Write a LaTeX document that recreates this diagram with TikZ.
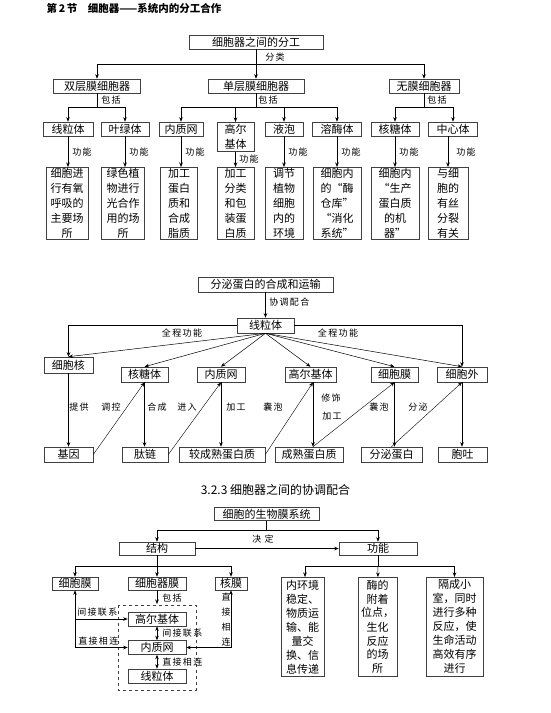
\documentclass[tikz,border=0pt]{standalone}
\usepackage{fontspec}
\setmainfont{Noto Sans CJK SC}
\newfontfamily\lblfont{Noto Sans CJK SC}[LetterSpace=15]
\usetikzlibrary{arrows.meta}

\begin{document}
\begin{tikzpicture}[x=1pt, y=-1pt, line width=0.5pt,
    box/.style={draw=black!75, line width=0.6pt, inner sep=0pt, align=center, font=\fontsize{11}{15}\selectfont},
    tallbox/.style={box, font=\fontsize{11}{14}\selectfont},
    lbl/.style={inner sep=0pt, font=\lblfont\fontsize{9}{11}\selectfont},
    >={Stealth[length=4.5pt,width=3.5pt]}]

    \useasboundingbox (0,0) rectangle (550,713);

    \node[anchor=west, font=\bfseries\fontsize{10.5}{12}\selectfont] (title) at (43,8) {第\,2\,节\quad 细胞器——系统内的分工合作};

    % ---- 分工
    \node[box, minimum width=134, minimum height=14] (fg) at (256,42) {细胞器之间的分工};
    \node[box, minimum width=87, minimum height=14] (sm2) at (97,86) {双层膜细胞器};
    \node[box, minimum width=96, minimum height=14] (sm1) at (256,86) {单层膜细胞器};
    \node[box, minimum width=70, minimum height=14] (sm0) at (424,86) {无膜细胞器};
    \coordinate (fgj) at (256,64);
    \draw (fg) -- (fgj);
    \draw[->] (fgj) -| (sm2);
    \draw[->] (fgj) -- (sm1);
    \draw[->] (fgj) -| (sm0);
    \node[lbl] at (275,57) {分类};

    \node[box, minimum width=50, minimum height=14] (xlt) at (68,129) {线粒体};
    \node[box, minimum width=48, minimum height=14] (ylt) at (125,129) {叶绿体};
    \node[box, minimum width=44, minimum height=14] (nzw) at (181,129) {内质网};
    \node[box, minimum width=37, minimum height=29, anchor=north] (gej) at (235.5,122) {高尔\\基体};
    \node[box, minimum width=38, minimum height=14] (yp) at (284,129) {液泡};
    \node[box, minimum width=49, minimum height=14] (rmt) at (337,129) {溶酶体};
    \node[box, minimum width=48, minimum height=14] (htt) at (395,129) {核糖体};
    \node[box, minimum width=49, minimum height=14] (zxt) at (453,129) {中心体};

    \coordinate (sm2j) at (97,107);
    \draw (sm2) -- (sm2j);
    \draw[->] (sm2j) -| (xlt);
    \draw[->] (sm2j) -| (ylt);
    \node[lbl] at (111,100) {包括};
    \coordinate (sm1j) at (256,107);
    \draw (sm1) -- (sm1j);
    \draw[->] (sm1j) -| (nzw);
    \draw[->] (sm1j) -| (gej);
    \draw[->] (sm1j) -| (yp);
    \draw[->] (sm1j) -| (rmt);
    \node[lbl] at (268,100) {包括};
    \coordinate (sm0j) at (424,107);
    \draw (sm0) -- (sm0j);
    \draw[->] (sm0j) -| (htt);
    \draw[->] (sm0j) -| (zxt);
    \node[lbl] at (437,100) {包括};

    \node[box, minimum width=42, minimum height=72, anchor=north] (f1) at (67,167) {细胞进\\行有氧\\呼吸的\\主要场\\所};
    \node[box, minimum width=43, minimum height=72, anchor=north] (f2) at (123,167) {绿色植\\物进行\\光合作\\用的场\\所};
    \node[box, minimum width=37, minimum height=72, anchor=north] (f3) at (179,167) {加工\\蛋白\\质和\\合成\\脂质};
    \node[box, minimum width=37, minimum height=72, anchor=north] (f4) at (235.5,167) {加工\\分类\\和包\\装蛋\\白质};
    \node[box, minimum width=38, minimum height=72, anchor=north] (f5) at (284,167) {调节\\植物\\细胞\\内的\\环境};
    \node[box, minimum width=48, minimum height=72, anchor=north] (f6) at (337,167) {细胞内\\的“酶\\仓库”\\“消化\\系统”};
    \node[box, minimum width=48, minimum height=72, anchor=north] (f7) at (395,167) {细胞内\\“生产\\蛋白质\\的机\\器”};
    \node[box, minimum width=40, minimum height=72, anchor=north] (f8) at (448,167) {与细\\胞的\\有丝\\分裂\\有关};

    \draw[->] (xlt) -- (xlt |- f1.north);
    \draw[->] (ylt) -- (ylt |- f2.north);
    \draw[->] (nzw) -- (nzw |- f3.north);
    \draw[->] (gej) -- (gej |- f4.north);
    \draw[->] (yp) -- (yp |- f5.north);
    \draw[->] (rmt) -- (rmt |- f6.north);
    \draw[->] (htt) -- (htt |- f7.north);
    \draw[->] (f8.north |- zxt.south) -- (f8.north);
    \node[lbl, anchor=west] at (72,152) {功能};
    \node[lbl, anchor=west] at (129,152) {功能};
    \node[lbl, anchor=west] at (185,152) {功能};
    \node[lbl, anchor=west] at (239,159) {功能};
    \node[lbl, anchor=west] at (288,152) {功能};
    \node[lbl, anchor=west] at (341,152) {功能};
    \node[lbl, anchor=west] at (399,152) {功能};
    \node[lbl, anchor=west] at (456,152) {功能};

    % ---- 分泌蛋白
    \node[box, minimum width=135, minimum height=15] (fm) at (265.5,284.5) {分泌蛋白的合成和运输};
    \node[box, minimum width=57, minimum height=15] (xlt2) at (265.5,325.5) {线粒体};
    \draw[->, thick] (fm) -- (xlt2);
    \node[lbl, anchor=west] at (269,302) {协调配合};

    \node[box, minimum width=49, minimum height=16] (xhh) at (68.5,365) {细胞核};
    \node[box, minimum width=47, minimum height=15] (htt2) at (144.5,374.5) {核糖体};
    \node[box, minimum width=48, minimum height=15] (nzw2) at (221,374.5) {内质网};
    \node[box, minimum width=51, minimum height=15] (gej2) at (310.5,374.5) {高尔基体};
    \node[box, minimum width=47, minimum height=15] (xbm) at (394.5,374.5) {细胞膜};
    \node[box, minimum width=50, minimum height=15] (xbw) at (462,374.5) {细胞外};

    \node[box, minimum width=49, minimum height=15] (jy) at (68.5,454.5) {基因};
    \node[box, minimum width=46, minimum height=15] (tl) at (145,454.5) {肽链};
    \node[box, minimum width=86, minimum height=15] (jcs) at (222,454.5) {较成熟蛋白质};
    \node[box, minimum width=68, minimum height=15] (csd) at (309,454.5) {成熟蛋白质};
    \node[box, minimum width=61, minimum height=15] (fmd) at (391.5,454.5) {分泌蛋白};
    \node[box, minimum width=49, minimum height=15] (tt) at (462.5,454.5) {胞吐};

    \draw[->] (xlt2.west) -| (xhh.north);
    \draw[->] (xlt2.east) -| (xbw.north);
    \draw[->] (xlt2.south) -- (xhh.north);
    \draw[->] (xlt2.south) -- (htt2.north);
    \draw[->] (xlt2.south) -- (nzw2.north);
    \draw[->] (xlt2.south) -- (gej2.north);
    \draw[->] (xlt2.south) -- (xbm.north);
    \draw[->] (xlt2.south) -- (xbw.north);
    \node[lbl] at (182,333) {全程功能};
    \node[lbl] at (338,333) {全程功能};

    \draw[->] (xhh) -- (xhh |- jy.north);
    \draw[->] (htt2) -- (htt2 |- tl.north);
    \draw[->] (nzw2) -- (nzw2 |- jcs.north);
    \draw[->] (gej2.south -| 313,0) -- (313,0 |- csd.north);
    \draw[->, thick] (xbm) -- (xbm |- fmd.north);
    \draw[->] (xbw) -- (xbw |- tt.north);
    \draw[->, line width=0.4pt] (jy.east) -- (htt2.south);
    \draw[->, line width=0.4pt] (tl.east) -- (nzw2.south);
    \draw[->, line width=0.4pt] (jcs.east) -- (gej2.south -| 313,0);
    \draw[->, line width=0.4pt] (313,0 |- csd.north) -- (xbm.south);
    \draw[->, line width=0.4pt] (fmd.north) -- (xbw.south);

    \node[lbl] at (79,407) {提供};
    \node[lbl] at (111,407) {调控};
    \node[lbl] at (157,407) {合成};
    \node[lbl] at (187,407) {进入};
    \node[lbl] at (236,407) {加工};
    \node[lbl] at (273,407) {囊泡};
    \node[lbl] at (331,398) {修饰};
    \node[lbl] at (332,416) {加工};
    \node[lbl] at (379,407) {囊泡};
    \node[lbl] at (418,407) {分泌};

    % ---- 协调配合
    \node[font=\fontsize{12}{14}\selectfont] (title2) at (275.5,490) {3.2.3 细胞器之间的协调配合};

    \node[box, minimum width=105, minimum height=13] (sw) at (266.5,514) {细胞的生物膜系统};
    \node[box, minimum width=76, minimum height=13] (jg) at (157,548.5) {结构};
    \node[box, minimum width=78, minimum height=13] (gn) at (378,548.5) {功能};
    \coordinate (swj) at (266.5,530);
    \draw (sw) -- (swj);
    \draw[->] (swj) -| (jg);
    \draw[->] (swj) -| (gn);
    \draw[->] (jg) -- (gn);
    \node[lbl] at (263,539) {决\ 定};

    \node[box, minimum width=46, minimum height=13] (xbm3) at (75,583.5) {细胞膜};
    \node[box, minimum width=58, minimum height=13] (xqm) at (157,583.5) {细胞器膜};
    \node[box, minimum width=32, minimum height=13] (hm) at (231,583.5) {核膜};
    \coordinate (jgj) at (157,566);
    \draw[thick] (jg) -- (jgj);
    \draw[->] (jgj) -| (xbm3);
    \draw[->] (jgj) -- (xqm);
    \draw[->] (jgj) -| (hm);

    \node[tallbox, minimum width=43, minimum height=99, anchor=north] (ga) at (302.5,577) {内环境\\稳定、\\物质运\\输、能\\量交\\换、信\\息传递};
    \node[tallbox, minimum width=39, minimum height=99, anchor=north] (gb) at (377.5,577) {酶的\\附着\\位点，\\生化\\反应\\的场\\所};
    \node[tallbox, minimum width=57, minimum height=99, anchor=north] (gc) at (454.5,577) {隔成小\\室，同时\\进行多种\\反应，使\\生命活动\\高效有序\\进行};
    \coordinate (gnj) at (378,566);
    \draw[thick] (gn) -- (gnj);
    \draw[->] (gnj) -| (ga.north -| 305,0);
    \draw[->] (gnj) -- (gb);
    \draw[->] (gnj) -| (gc);

    \draw[dashed, black!75] (118,605) rectangle (196,690);
    \node[box, minimum width=58, minimum height=14] (gej3) at (157,619) {高尔基体};
    \node[box, minimum width=58, minimum height=14] (nzw3) at (157,647.5) {内质网};
    \node[box, minimum width=58, minimum height=14] (xlt3) at (157,676) {线粒体};
    \draw[->] (xqm) -- (157,604);
    \node[lbl, anchor=west] at (162,598) {包括};
    \draw[<->] (gej3) -- (nzw3);
    \draw[<->] (nzw3) -- (xlt3);
    \node[lbl, anchor=west] at (162,633) {间接联系};
    \node[lbl, anchor=west] at (162,662) {直接相连};

    \draw[<->] (xbm3) |- (nzw3.west);
    \draw[->] (xbm3 |- gej3.west) -- (gej3.west);
    \node[lbl, anchor=west] at (77,612) {间接联系};
    \node[lbl, anchor=west] at (78,641) {直接相连};
    \draw[<->] (hm) |- (nzw3.east);
    \node[lbl, align=center, font=\lblfont\fontsize{9}{15}\selectfont] at (226,620) {直\\接\\相\\连};

\end{tikzpicture}
\end{document}
